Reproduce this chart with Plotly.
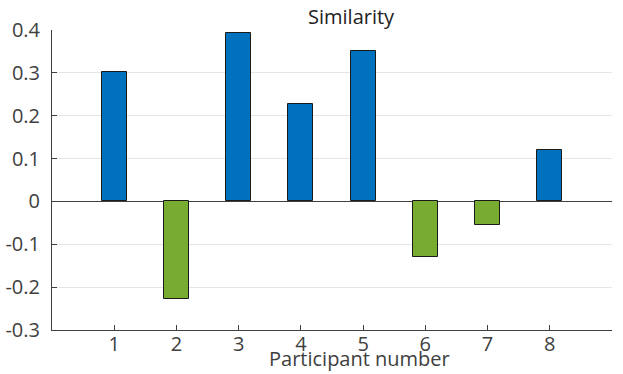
import plotly.graph_objects as go

participants = [1, 2, 3, 4, 5, 6, 7, 8]
similarity = [0.303, -0.227, 0.393, 0.228, 0.351, -0.130, -0.054, 0.120]
y_ticks = [-0.3, -0.2, -0.1, 0, 0.1, 0.2, 0.3, 0.4]
y_tick_labels = ["-0.3", "-0.2", "-0.1", "0", "0.1", "0.2", "0.3", "0.4"]
x_ticks = [1, 2, 3, 4, 5, 6, 7, 8]

BLUE = "#0072BD"
GREEN = "#77AC30"
colors = [BLUE if v >= 0 else GREEN for v in similarity]
FONT = "Open Sans"
TXT = "#404040"

L, R, T, B = 52, 612, 29.5, 330
W, H = 623, 374
PW, PH = R - L, B - T

fig = go.Figure()
fig.add_trace(go.Bar(
    x=participants, y=similarity, width=0.4,
    marker=dict(color=colors, line=dict(color="#1a1a1a", width=1)),
    showlegend=False,
))

fig.update_layout(
    width=W, height=H,
    margin=dict(l=L, r=W - R, t=T, b=H - B, autoexpand=False),
    paper_bgcolor="white", plot_bgcolor="white",
    font=dict(family=FONT, size=20, color=TXT),
    bargap=0,
    xaxis=dict(
        range=[0, 9], tickvals=x_ticks, ticktext=[str(v) for v in x_ticks],
        ticks="inside", ticklen=5, tickcolor="#404040",
        showline=True, linecolor="#404040", linewidth=1,
        showgrid=False, zeroline=False, mirror=False, automargin=False,
        tickfont=dict(family=FONT, size=20, color=TXT),
        ticklabelstandoff=-4,
    ),
    yaxis=dict(
        range=[-0.3, 0.4], tickvals=y_ticks, ticktext=y_tick_labels,
        ticks="inside", ticklen=5, tickcolor="#404040",
        showline=True, linecolor="#404040", linewidth=1,
        showgrid=True, gridcolor="#e6e6e6", gridwidth=1,
        zeroline=True, zerolinecolor="#404040", zerolinewidth=1,
        automargin=False,
        tickfont=dict(family=FONT, size=20, color=TXT),
        ticklabelstandoff=7,
    ),
    annotations=[
        dict(
            text="Participant number", xref="paper", yref="paper",
            x=(359 - L) / PW, y=1 + (T - 359) / PH, xanchor="center", yanchor="middle",
            showarrow=False, font=dict(family=FONT, size=20, color=TXT),
        ),
        dict(
            text="Similarity", xref="paper", yref="paper",
            x=(351 - L) / PW, y=1 + (T - 16) / PH, xanchor="center", yanchor="middle",
            showarrow=False, font=dict(family=FONT, size=20, color="#222222"),
        ),
    ],
)

fig.write_html("out.html", config={"displayModeBar": False},
               post_script="document.body.style.margin='0';")
